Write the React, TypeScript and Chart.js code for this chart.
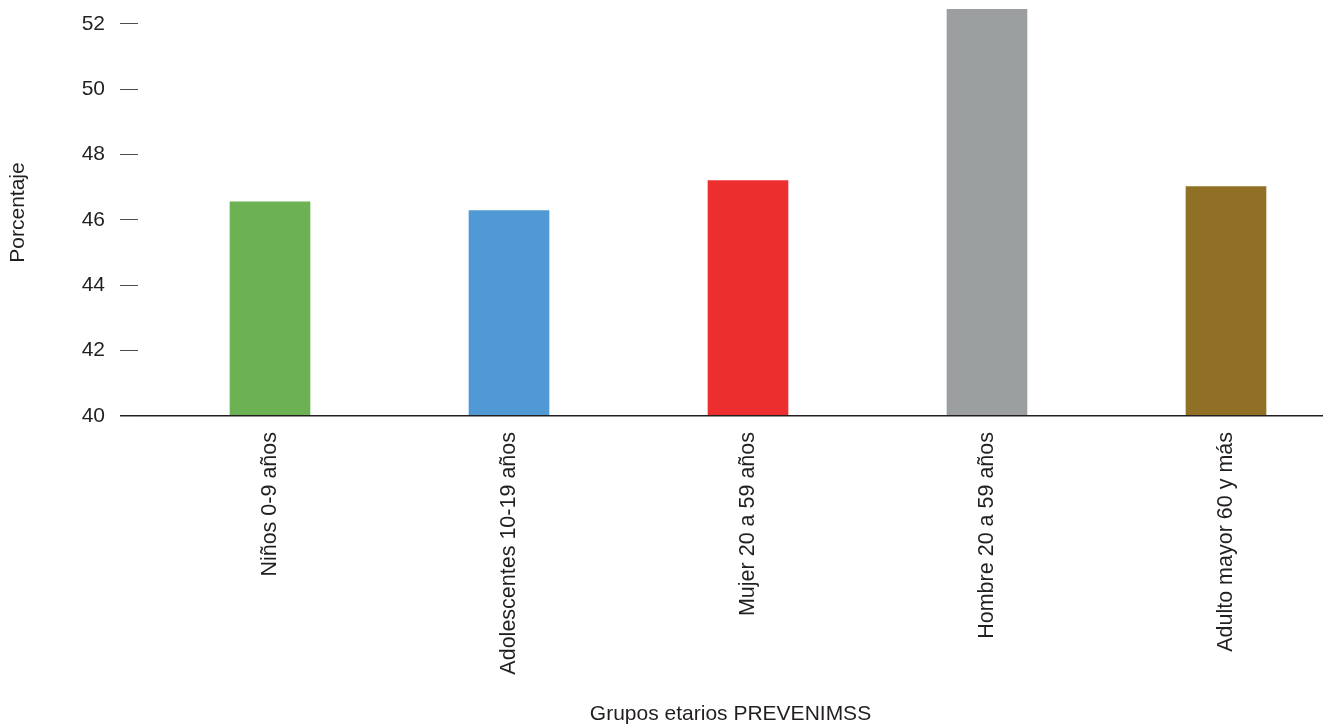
import React, { useEffect, useRef } from "react";
import { Chart, registerables } from "chart.js";

Chart.register(...registerables);

const categories = [
  "Niños 0-9 años",
  "Adolescentes 10-19 años",
  "Mujer 20 a 59 años",
  "Hombre 20 a 59 años",
  "Adulto mayor 60 y más",
];
const values = [46.55, 46.28, 47.2, 52.45, 47.02];
const barColors = ["#6cb154", "#5099d4", "#ed2e2f", "#9b9fa0", "#8f7024"];
const yTicks = [40, 42, 44, 46, 48, 50, 52];

const FONT = "'Liberation Sans', Arial, Helvetica, sans-serif";
const TEXT = "#231f20";

export default function App() {
  const ref = useRef<HTMLCanvasElement | null>(null);
  useEffect(() => {
    if (!ref.current) return;
    const chart = new Chart(ref.current, {
      type: "bar",
      data: {
        datasets: [
          {
            data: values.map((v, i) => ({ x: i, y: v })),
            backgroundColor: barColors,
            barThickness: 80,
            borderWidth: 0,
          },
        ],
      },
      options: {
        animation: false,
        responsive: true,
        maintainAspectRatio: false,
        layout: { padding: { top: 9, right: 2, left: 0, bottom: 0 } },
        plugins: { legend: { display: false }, tooltip: { enabled: false } },
        scales: {
          x: {
            type: "linear",
            offset: false,
            min: -0.5523,
            max: 4.4059,
            border: { display: false },
            grid: { display: false, drawTicks: false },
            afterFit: (s: any) => {
              s.height = 309;
            },
            afterBuildTicks: (s: any) => {
              s.ticks = categories.map((_, i) => ({ value: i }));
            },
            ticks: {
              autoSkip: false,
              minRotation: 90,
              maxRotation: 90,
              padding: 16,
              color: TEXT,
              font: { family: FONT, size: 21.5 },
              callback: (v: any) => categories[v] ?? "",
            },
            title: {
              display: true,
              text: "Grupos etarios PREVENIMSS",
              color: TEXT,
              font: { family: FONT, size: 21, lineHeight: 1 },
              padding: { top: 0, bottom: 0.5 },
            },
          },
          y: {
            min: 40,
            max: 52.45,
            border: { display: false },
            afterFit: (s: any) => {
              s.width = 138;
              s.paddingTop = 0;
              s.paddingBottom = 0;
            },
            afterBuildTicks: (s: any) => {
              s.ticks = yTicks.map((v) => ({ value: v }));
            },
            grid: {
              z: 1,
              drawOnChartArea: true,
              tickLength: 18,
              color: (c: any) => (c.tick && c.tick.value === 40 ? TEXT : "rgba(0,0,0,0)"),
              tickColor: (c: any) => (c.tick && c.tick.value === 40 ? TEXT : "#4d4d4f"),
              lineWidth: (c: any) => (c.tick && c.tick.value === 40 ? 1.5 : 1),
              tickWidth: (c: any) => (c.tick && c.tick.value === 40 ? 1.5 : 1),
            },
            ticks: {
              padding: 15,
              color: TEXT,
              font: { family: FONT, size: 21 },
            },
            title: {
              display: true,
              text: "Porcentaje",
              color: TEXT,
              font: { family: FONT, size: 21, lineHeight: 1 },
              padding: { top: 7.5, bottom: 0 },
            },
          },
        },
      },
    });
    return () => chart.destroy();
  }, []);
  return (
    <div style={{ position: "fixed", left: 0, top: 0, width: 1325, height: 725, background: "#fff" }}>
      <canvas ref={ref} />
    </div>
  );
}
